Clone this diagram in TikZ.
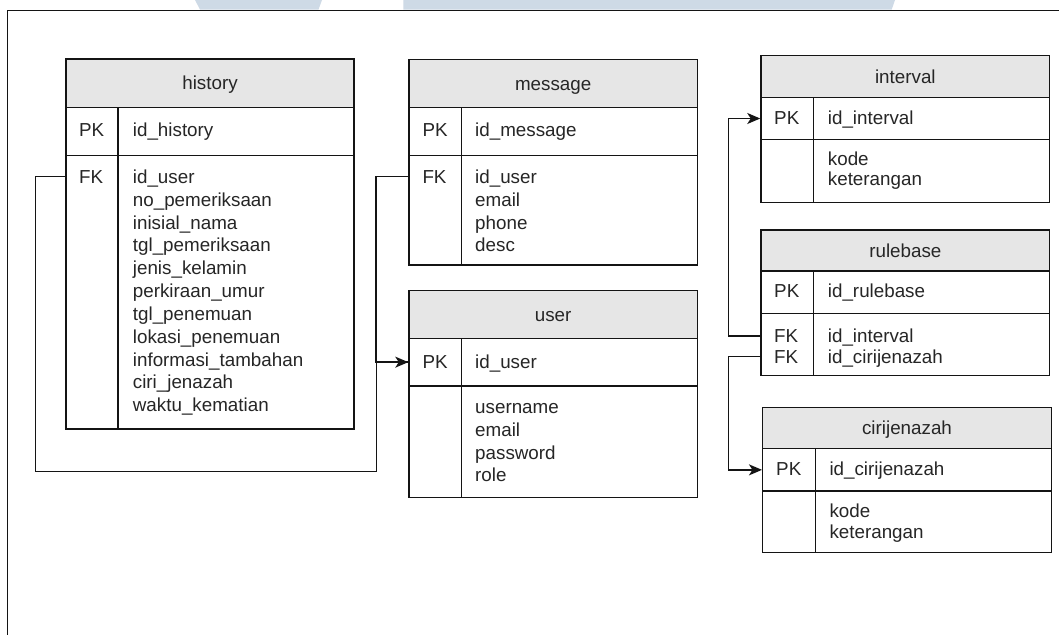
\documentclass[tikz,border=0pt]{standalone}
\usepackage{fontspec}
\setmainfont{Liberation Sans}
\usetikzlibrary{fit,arrows.meta}

\definecolor{ink}{RGB}{38,38,38}
\definecolor{rule}{RGB}{20,20,20}
\definecolor{headfill}{RGB}{230,230,230}
\definecolor{bandblue}{RGB}{206,218,230}

\tikzset{
  cell/.style={draw=rule, line width=1.5pt, inner sep=0pt},
  headcell/.style={cell, fill=headfill},
  headtxt/.style={inner sep=0pt, font=\fontsize{18.8}{22}\selectfont, text=ink,
    text height=13.4pt, text depth=0pt, anchor=center},
  keytxt/.style={inner sep=0pt, font=\fontsize{18.8}{22}\selectfont, text=ink,
    text height=13.4pt, text depth=0pt, anchor=base west},
  % multi-line column lists are placed by the baseline of their last line
  fieldtxt/.style={inner sep=0pt, font=\fontsize{18.8}{22.85}\selectfont, text=ink,
    align=left, anchor=base west},
  fieldtxtr/.style={fieldtxt, font=\fontsize{18.8}{20.5}\selectfont},
  conn/.style={draw=rule, line width=1.5pt},
  arr/.style={conn, -{Stealth[length=13pt,width=11pt,inset=3.5pt]}},
}

% #1 name, #2 left, #3 divider, #4 right, #5 top, #6 header bottom,
% #7 key row bottom, #8 bottom, #9 title
\newcommand\ertable[9]{%
  \node[headcell, fit={(#2,#5) (#4,#6)}] (#1-head) {};
  \node[headtxt] (#1-title) at (#1-head.center) {#9};
  \node[cell, fit={(#2,#6) (#3,#7)}] (#1-pkkey) {};
  \node[cell, fit={(#3,#6) (#4,#7)}] (#1-pkfield) {};
  \node[cell, fit={(#2,#7) (#3,#8)}] (#1-key) {};
  \node[cell, fit={(#3,#7) (#4,#8)}] (#1-field) {};
}

\begin{document}
\begin{tikzpicture}[x=1pt,y=-1pt]
  \fill[white] (0,0) rectangle (1059,635);
  \useasboundingbox (0,0) rectangle (1059,635);

  % header bands and page frame
  \fill[bandblue] (195,0) -- (322,0) -- (318.5,9.5) -- (200,9.5) -- cycle;
  \fill[bandblue] (403.3,0) -- (895,0) -- (891.7,9.5) -- (403.3,9.5) -- cycle;
  \draw[rule, line width=1pt] (1059,10.3) -- (7.3,10.3) -- (7.3,635);

  % tables
  \ertable{h}{66}{118}{354}{59}{107.3}{155.3}{429}{history}
  \ertable{m}{409}{461.3}{697.3}{59.3}{107.3}{155.3}{265}{message}
  \ertable{u}{409}{461.3}{697.3}{290.7}{338.3}{386}{497.3}{user}
  \ertable{i}{761}{813.7}{1049.7}{55.7}{97.7}{139.3}{202.7}{interval}
  \ertable{r}{761}{813.7}{1049.7}{230}{271}{313.3}{375.7}{rulebase}
  \ertable{c}{762.7}{815.3}{1051.3}{407.7}{448.7}{491}{552.7}{cirijenazah}

  % history
  \node[keytxt] (h-pk) at (79,136.7) {PK};
  \node[keytxt] (h-fk) at (79,183.3) {FK};
  \node[fieldtxt] (h-pkname) at (132.7,136.7) {id\_history};
  \node[fieldtxt] (h-cols) at (132.7,411.8) {id\_user\\no\_pemeriksaan\\inisial\_nama\\tgl\_pemeriksaan\\jenis\_kelamin\\perkiraan\_umur\\tgl\_penemuan\\lokasi\_penemuan\\informasi\_tambahan\\ciri\_jenazah\\waktu\_kematian};

  % message
  \node[keytxt] (m-pk) at (422.3,136.7) {PK};
  \node[keytxt] (m-fk) at (422.3,183.3) {FK};
  \node[fieldtxt] (m-pkname) at (475,136.7) {id\_message};
  \node[fieldtxt] (m-cols) at (475,251.9) {id\_user\\email\\phone\\desc};

  % user
  \node[keytxt] (u-pk) at (422.3,368.3) {PK};
  \node[fieldtxt] (u-pkname) at (475,368.3) {id\_user};
  \node[fieldtxt] (u-cols) at (475,481.9) {username\\email\\password\\role};

  % interval
  \node[keytxt] (i-pk) at (774,124.3) {PK};
  \node[fieldtxt] (i-pkname) at (827.7,124.3) {id\_interval};
  \node[fieldtxtr] (i-cols) at (827.7,185.6) {kode\\keterangan};

  % rulebase
  \node[keytxt] (r-pk) at (774,297.3) {PK};
  \node[fieldtxt] (r-pkname) at (827.7,297.3) {id\_rulebase};
  \node[keytxt] (r-fk1) at (774,342.5) {FK};
  \node[keytxt] (r-fk2) at (774,363) {FK};
  \node[fieldtxtr] (r-cols) at (827.7,363) {id\_interval\\id\_cirijenazah};

  % cirijenazah
  \node[keytxt] (c-pk) at (776,475) {PK};
  \node[fieldtxt] (c-pkname) at (829.3,475) {id\_cirijenazah};
  \node[fieldtxtr] (c-cols) at (829.3,538.2) {kode\\keterangan};

  % relations
  \draw[conn] (m-key.west |- m-fk) -- ++(-32.3,0) |- (u-pkkey.west);
  \draw[arr] (h-key.west |- h-fk) -- ++(-30,0) |- (376.7,471.7) |- (u-pkkey.west);
  \draw[arr] (r-key.west |- r-fk1) -- ++(-31.7,0) |- (i-pkkey.west);
  \draw[arr] (r-key.west |- r-fk2) -- ++(-31.7,0) |- (c-pkkey.west);
\end{tikzpicture}
\end{document}
